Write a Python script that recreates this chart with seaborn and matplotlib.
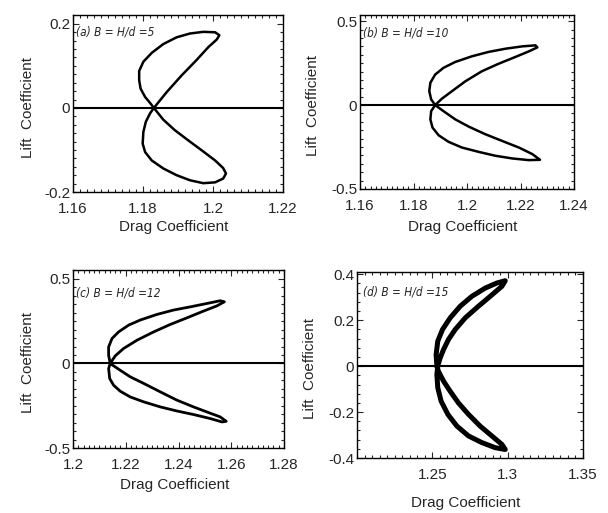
import numpy as np
import pandas as pd
import seaborn as sns
import matplotlib
matplotlib.use("Agg")
import matplotlib.pyplot as plt
from matplotlib.ticker import AutoMinorLocator

# Drag / lift coefficient traces
drag_a = [1.1831, 1.1868, 1.1911, 1.1953, 1.1987, 1.2011, 1.2018, 1.2006, 1.1972, 1.1934,
          1.1896, 1.1858, 1.1825, 1.1801, 1.1789, 1.1789, 1.1793, 1.1806, 1.1820, 1.1831,
          1.1820, 1.1808, 1.1801, 1.1799, 1.1806, 1.1825, 1.1858, 1.1896, 1.1934, 1.1972,
          1.2006, 1.2029, 1.2037, 1.2029, 1.2006, 1.1968, 1.1929, 1.1891, 1.1858, 1.1831]
lift_a = [0.000, 0.038, 0.078, 0.114, 0.145, 0.163, 0.173, 0.180, 0.181, 0.177,
          0.168, 0.152, 0.131, 0.110, 0.088, 0.066, 0.046, 0.026, 0.012, 0.000,
          -0.013, -0.033, -0.057, -0.085, -0.105, -0.125, -0.144, -0.160, -0.172, -0.179,
          -0.177, -0.168, -0.156, -0.143, -0.125, -0.101, -0.077, -0.053, -0.028, 0.000]

drag_b = [1.1881, 1.1866, 1.1859, 1.1863, 1.1881, 1.1912, 1.1956, 1.2019, 1.2081, 1.2144,
          1.2207, 1.2256, 1.2263, 1.2231, 1.2181, 1.2119, 1.2056, 1.1994, 1.1944, 1.1906,
          1.1881, 1.1866, 1.1863, 1.1871, 1.1894, 1.1931, 1.1981, 1.2044, 1.2106, 1.2169,
          1.2231, 1.2273, 1.2244, 1.2194, 1.2132, 1.2069, 1.2006, 1.1956, 1.1912, 1.1881]
lift_b = [0.000, 0.034, 0.083, 0.133, 0.182, 0.222, 0.257, 0.291, 0.317, 0.336,
          0.350, 0.356, 0.344, 0.320, 0.287, 0.247, 0.202, 0.142, 0.083, 0.038,
          0.000, -0.036, -0.085, -0.134, -0.180, -0.219, -0.253, -0.279, -0.302, -0.318,
          -0.328, -0.326, -0.292, -0.253, -0.214, -0.174, -0.128, -0.085, -0.036, 0.000]

drag_c = [1.2141, 1.2135, 1.2135, 1.2148, 1.2173, 1.2211, 1.2255, 1.2318, 1.2381, 1.2445,
          1.2508, 1.2558, 1.2574, 1.2546, 1.2495, 1.2432, 1.2369, 1.2306, 1.2243, 1.2192,
          1.2160, 1.2141, 1.2135, 1.2139, 1.2154, 1.2179, 1.2217, 1.2268, 1.2331, 1.2394,
          1.2457, 1.2521, 1.2565, 1.2581, 1.2558, 1.2508, 1.2457, 1.2394, 1.2331, 1.2268,
          1.2217, 1.2173, 1.2141]
lift_c = [0.000, 0.049, 0.098, 0.148, 0.187, 0.227, 0.257, 0.290, 0.316, 0.335,
          0.355, 0.371, 0.365, 0.341, 0.310, 0.270, 0.231, 0.187, 0.138, 0.089,
          0.045, 0.000, -0.030, -0.089, -0.129, -0.164, -0.198, -0.227, -0.257, -0.281,
          -0.302, -0.326, -0.346, -0.342, -0.316, -0.287, -0.257, -0.217, -0.168, -0.118,
          -0.079, -0.034, 0.000]

drag_d = [1.2530, 1.2525, 1.2536, 1.2567, 1.2618, 1.2685, 1.2762, 1.2851, 1.2928, 1.2984,
          1.2962, 1.2884, 1.2806, 1.2718, 1.2651, 1.2607, 1.2574, 1.2552, 1.2536,
          1.2530, 1.2536, 1.2558, 1.2603, 1.2663, 1.2740, 1.2829, 1.2917, 1.2984,
          1.2962, 1.2895, 1.2817, 1.2740, 1.2673, 1.2618, 1.2574, 1.2540, 1.2530]
lift_d = [0.000, 0.050, 0.109, 0.159, 0.210, 0.261, 0.304, 0.340, 0.362, 0.372,
          0.348, 0.304, 0.261, 0.210, 0.159, 0.116, 0.072, 0.036, 0.000,
          -0.036, -0.094, -0.152, -0.210, -0.261, -0.304, -0.333, -0.355, -0.363,
          -0.341, -0.304, -0.261, -0.210, -0.160, -0.109, -0.065, -0.022, 0.000]

labels = ["(a) B = H/d =5", "(b) B = H/d =10", "(c) B = H/d =12", "(d) B = H/d =15"]
xlims = [(1.16, 1.22), (1.16, 1.24), (1.2, 1.28), (1.2, 1.35)]
ylims = [(-0.2, 0.221), (-0.5, 0.537), (-0.5, 0.553), (-0.4, 0.41)]
xticks = [[1.16, 1.18, 1.2, 1.22], [1.16, 1.18, 1.2, 1.22, 1.24],
          [1.2, 1.22, 1.24, 1.26, 1.28], [1.25, 1.3, 1.35]]
xticklabels = [["1.16", "1.18", "1.2", "1.22"], ["1.16", "1.18", "1.2", "1.22", "1.24"],
               ["1.2", "1.22", "1.24", "1.26", "1.28"], ["1.25", "1.3", "1.35"]]
yticks = [[-0.2, 0, 0.2], [-0.5, 0, 0.5], [-0.5, 0, 0.5], [-0.4, -0.2, 0, 0.2, 0.4]]
yticklabels = [["-0.2", "0", "0.2"], ["-0.5", "0", "0.5"], ["-0.5", "0", "0.5"],
               ["-0.4", "-0.2", "0", "0.2", "0.4"]]

sns.set_style("ticks")
plt.rcParams["font.family"] = ["Liberation Sans", "DejaVu Sans"]

fig = plt.figure(figsize=(6.08, 5.13), dpi=100)
positions = [[0.1201, 0.6257, 0.3454, 0.3450],
             [0.5921, 0.6316, 0.3520, 0.3392],
             [0.1201, 0.1267, 0.3470, 0.3470],
             [0.5872, 0.1072, 0.3717, 0.3626]]
ylab_x = [-0.181, -0.187, -0.180, -0.177]
xlab_y = [-0.16, -0.178, -0.169, -0.204]
text_pos = [(0.014, 0.904), (0.014, 0.897), (0.012, 0.871), (0.027, 0.892)]
widths = [1.8, 1.8, 2.0, 3.6]
yminor = [10, 10, 10, 5]

data = [(drag_a, lift_a), (drag_b, lift_b), (drag_c, lift_c), (drag_d, lift_d)]

for i, (drag, lift) in enumerate(data):
    ax = fig.add_axes(positions[i])
    df = pd.DataFrame({"Drag": drag, "Lift": lift})
    sns.lineplot(data=df, x="Drag", y="Lift", sort=False, estimator=None,
                 color="black", linewidth=widths[i], ax=ax)
    ax.axhline(0, color="black", linewidth=1.5)
    ax.set_xlim(xlims[i])
    ax.set_ylim(ylims[i])
    ax.set_xticks(xticks[i])
    ax.set_xticklabels(xticklabels[i])
    ax.set_yticks(yticks[i])
    ax.set_yticklabels(yticklabels[i])
    ax.xaxis.set_minor_locator(AutoMinorLocator(10))
    ax.yaxis.set_minor_locator(AutoMinorLocator(yminor[i]))
    ax.tick_params(which="both", direction="in", top=True, right=True, labelsize=11)
    ax.tick_params(axis="x", pad=7)
    ax.tick_params(axis="y", pad=2)
    ax.tick_params(which="major", length=4, width=0.8)
    ax.tick_params(which="minor", length=2, width=0.8)
    for s in ax.spines.values():
        s.set_linewidth(1.0)
        s.set_color("black")
    ax.set_xlabel("Drag Coefficient", fontsize=11)
    ax.set_ylabel("Lift  Coefficient", fontsize=11)
    ax.xaxis.set_label_coords(0.48, xlab_y[i])
    ax.yaxis.set_label_coords(ylab_x[i], 0.48)
    ax.text(text_pos[i][0], text_pos[i][1], labels[i], transform=ax.transAxes,
            fontsize=8.5, style="italic", fontstretch="condensed",
            family=["DejaVu Sans", "Liberation Sans"], va="center", ha="left")

plt.savefig("out.png", dpi=100)
